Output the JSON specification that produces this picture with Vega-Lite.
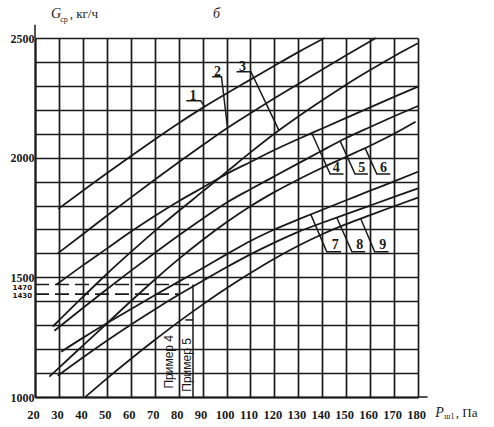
{
  "$schema": "https://vega.github.io/schema/vega-lite/v6.json",
  "width": 383,
  "height": 359,
  "autosize": {"type": "none"},
  "padding": {"left": 35, "top": 38, "right": 76, "bottom": 30},
  "background": "white",
  "config": {"view": {"stroke": null}},
  "datasets": {
    "curves": [
      {"c": 1, "P": 29.7, "G": 1786}, {"c": 1, "P": 40, "G": 1862}, {"c": 1, "P": 50, "G": 1935}, {"c": 1, "P": 60, "G": 2006}, {"c": 1, "P": 70, "G": 2076}, {"c": 1, "P": 80, "G": 2144}, {"c": 1, "P": 90, "G": 2208}, {"c": 1, "P": 100, "G": 2268}, {"c": 1, "P": 110, "G": 2326}, {"c": 1, "P": 120, "G": 2384}, {"c": 1, "P": 130, "G": 2441}, {"c": 1, "P": 141, "G": 2500},
      {"c": 2, "P": 29.5, "G": 1600}, {"c": 2, "P": 40, "G": 1680}, {"c": 2, "P": 50, "G": 1757}, {"c": 2, "P": 60, "G": 1833}, {"c": 2, "P": 70, "G": 1908}, {"c": 2, "P": 80, "G": 1981}, {"c": 2, "P": 90, "G": 2052}, {"c": 2, "P": 100, "G": 2122}, {"c": 2, "P": 110, "G": 2186}, {"c": 2, "P": 120, "G": 2248}, {"c": 2, "P": 130, "G": 2308}, {"c": 2, "P": 140, "G": 2368}, {"c": 2, "P": 150, "G": 2428}, {"c": 2, "P": 162.4, "G": 2500},
      {"c": 3, "P": 27.4, "G": 1294}, {"c": 3, "P": 40, "G": 1418}, {"c": 3, "P": 50, "G": 1514}, {"c": 3, "P": 60, "G": 1605}, {"c": 3, "P": 70, "G": 1693}, {"c": 3, "P": 80, "G": 1777}, {"c": 3, "P": 90, "G": 1858}, {"c": 3, "P": 100, "G": 1940}, {"c": 3, "P": 110, "G": 2022}, {"c": 3, "P": 120, "G": 2100}, {"c": 3, "P": 130, "G": 2172}, {"c": 3, "P": 140, "G": 2240}, {"c": 3, "P": 150, "G": 2305}, {"c": 3, "P": 160, "G": 2366}, {"c": 3, "P": 170, "G": 2424}, {"c": 3, "P": 180, "G": 2478},
      {"c": 4, "P": 29, "G": 1470}, {"c": 4, "P": 40, "G": 1550}, {"c": 4, "P": 50, "G": 1620}, {"c": 4, "P": 60, "G": 1690}, {"c": 4, "P": 70, "G": 1756}, {"c": 4, "P": 80, "G": 1818}, {"c": 4, "P": 90, "G": 1875}, {"c": 4, "P": 100, "G": 1932}, {"c": 4, "P": 110, "G": 1982}, {"c": 4, "P": 120, "G": 2032}, {"c": 4, "P": 130, "G": 2078}, {"c": 4, "P": 140, "G": 2122}, {"c": 4, "P": 150, "G": 2166}, {"c": 4, "P": 160, "G": 2210}, {"c": 4, "P": 170, "G": 2254}, {"c": 4, "P": 180, "G": 2297},
      {"c": 5, "P": 28.1, "G": 1277}, {"c": 5, "P": 40, "G": 1372}, {"c": 5, "P": 50, "G": 1450}, {"c": 5, "P": 60, "G": 1527}, {"c": 5, "P": 70, "G": 1602}, {"c": 5, "P": 80, "G": 1675}, {"c": 5, "P": 90, "G": 1745}, {"c": 5, "P": 100, "G": 1812}, {"c": 5, "P": 110, "G": 1868}, {"c": 5, "P": 120, "G": 1922}, {"c": 5, "P": 130, "G": 1976}, {"c": 5, "P": 140, "G": 2030}, {"c": 5, "P": 150, "G": 2082}, {"c": 5, "P": 160, "G": 2128}, {"c": 5, "P": 170, "G": 2173}, {"c": 5, "P": 180, "G": 2216},
      {"c": 6, "P": 26, "G": 1085}, {"c": 6, "P": 30, "G": 1122}, {"c": 6, "P": 40, "G": 1215}, {"c": 6, "P": 50, "G": 1307}, {"c": 6, "P": 60, "G": 1400}, {"c": 6, "P": 70, "G": 1490}, {"c": 6, "P": 80, "G": 1576}, {"c": 6, "P": 90, "G": 1656}, {"c": 6, "P": 100, "G": 1730}, {"c": 6, "P": 110, "G": 1797}, {"c": 6, "P": 120, "G": 1856}, {"c": 6, "P": 130, "G": 1909}, {"c": 6, "P": 140, "G": 1958}, {"c": 6, "P": 150, "G": 2004}, {"c": 6, "P": 160, "G": 2050}, {"c": 6, "P": 170, "G": 2100}, {"c": 6, "P": 179, "G": 2150},
      {"c": 7, "P": 30.9, "G": 1189}, {"c": 7, "P": 40, "G": 1247}, {"c": 7, "P": 50, "G": 1308}, {"c": 7, "P": 60, "G": 1367}, {"c": 7, "P": 70, "G": 1425}, {"c": 7, "P": 80, "G": 1482}, {"c": 7, "P": 90, "G": 1538}, {"c": 7, "P": 100, "G": 1596}, {"c": 7, "P": 110, "G": 1652}, {"c": 7, "P": 120, "G": 1700}, {"c": 7, "P": 130, "G": 1742}, {"c": 7, "P": 140, "G": 1782}, {"c": 7, "P": 150, "G": 1822}, {"c": 7, "P": 160, "G": 1862}, {"c": 7, "P": 170, "G": 1901}, {"c": 7, "P": 180, "G": 1941},
      {"c": 8, "P": 29.5, "G": 1089}, {"c": 8, "P": 40, "G": 1165}, {"c": 8, "P": 50, "G": 1235}, {"c": 8, "P": 60, "G": 1302}, {"c": 8, "P": 70, "G": 1366}, {"c": 8, "P": 80, "G": 1427}, {"c": 8, "P": 90, "G": 1485}, {"c": 8, "P": 100, "G": 1542}, {"c": 8, "P": 110, "G": 1596}, {"c": 8, "P": 120, "G": 1645}, {"c": 8, "P": 130, "G": 1690}, {"c": 8, "P": 140, "G": 1728}, {"c": 8, "P": 150, "G": 1764}, {"c": 8, "P": 160, "G": 1800}, {"c": 8, "P": 170, "G": 1836}, {"c": 8, "P": 180, "G": 1872},
      {"c": 9, "P": 41, "G": 1000}, {"c": 9, "P": 50, "G": 1077}, {"c": 9, "P": 60, "G": 1159}, {"c": 9, "P": 70, "G": 1238}, {"c": 9, "P": 80, "G": 1314}, {"c": 9, "P": 90, "G": 1386}, {"c": 9, "P": 100, "G": 1454}, {"c": 9, "P": 110, "G": 1518}, {"c": 9, "P": 120, "G": 1578}, {"c": 9, "P": 130, "G": 1632}, {"c": 9, "P": 140, "G": 1680}, {"c": 9, "P": 150, "G": 1722}, {"c": 9, "P": 160, "G": 1760}, {"c": 9, "P": 170, "G": 1797}, {"c": 9, "P": 180, "G": 1833}
    ],
    "segs": [
      {"id": "l1", "o": 0, "P": 83.2, "G": 2238}, {"id": "l1", "o": 1, "P": 89.2, "G": 2238}, {"id": "l1", "o": 2, "P": 90.9, "G": 2212},
      {"id": "l2", "o": 0, "P": 94.0, "G": 2338}, {"id": "l2", "o": 1, "P": 97.9, "G": 2338}, {"id": "l2", "o": 2, "P": 100.4, "G": 2128},
      {"id": "l3", "o": 0, "P": 104.2, "G": 2359}, {"id": "l3", "o": 1, "P": 110.2, "G": 2359}, {"id": "l3", "o": 2, "P": 121.9, "G": 2114},
      {"id": "l4", "o": 0, "P": 135.6, "G": 2103}, {"id": "l4", "o": 1, "P": 143.3, "G": 1932}, {"id": "l4", "o": 2, "P": 148.9, "G": 1932},
      {"id": "l5", "o": 0, "P": 147.5, "G": 2069}, {"id": "l5", "o": 1, "P": 153.7, "G": 1932}, {"id": "l5", "o": 2, "P": 159.1, "G": 1932},
      {"id": "l6", "o": 0, "P": 157.9, "G": 2040}, {"id": "l6", "o": 1, "P": 162.8, "G": 1932}, {"id": "l6", "o": 2, "P": 168.4, "G": 1932},
      {"id": "l7", "o": 0, "P": 135.2, "G": 1763}, {"id": "l7", "o": 1, "P": 141.9, "G": 1607}, {"id": "l7", "o": 2, "P": 147.9, "G": 1607},
      {"id": "l8", "o": 0, "P": 146.1, "G": 1749}, {"id": "l8", "o": 1, "P": 152.4, "G": 1607}, {"id": "l8", "o": 2, "P": 157.9, "G": 1607},
      {"id": "l9", "o": 0, "P": 156.1, "G": 1745}, {"id": "l9", "o": 1, "P": 161.9, "G": 1607}, {"id": "l9", "o": 2, "P": 167.7, "G": 1607},
      {"id": "yext", "o": 0, "P": 20, "G": 2500}, {"id": "yext", "o": 1, "P": 20, "G": 2555},
      {"id": "xext", "o": 0, "P": 180, "G": 1000}, {"id": "xext", "o": 1, "P": 184, "G": 1000},
      {"id": "v5", "o": 0, "P": 86, "G": 1470}, {"id": "v5", "o": 1, "P": 86, "G": 1000},
      {"id": "t5", "o": 0, "P": 82.8, "G": 1322}, {"id": "t5", "o": 1, "P": 86, "G": 1322}
    ],
    "dashes": [
      {"id": "d1", "o": 0, "P": 20, "G": 1470}, {"id": "d1", "o": 1, "P": 86, "G": 1470},
      {"id": "d2", "o": 0, "P": 20, "G": 1430}, {"id": "d2", "o": 1, "P": 80, "G": 1430}
    ],
    "nums": [
      {"t": "1", "P": 86.0, "G": 2243}, {"t": "2", "P": 96.2, "G": 2343}, {"t": "3", "P": 106.7, "G": 2364},
      {"t": "4", "P": 145.9, "G": 1940}, {"t": "5", "P": 156.5, "G": 1940}, {"t": "6", "P": 165.6, "G": 1940},
      {"t": "7", "P": 145.4, "G": 1618}, {"t": "8", "P": 155.7, "G": 1618}, {"t": "9", "P": 165.3, "G": 1618}
    ],
    "smallLabels": [
      {"t": "1470", "P": 20, "G": 1455}, {"t": "1430", "P": 20, "G": 1420}
    ],
    "examples": [
      {"t": "Пример 4", "P": 76.1, "G": 1147}, {"t": "Пример 5", "P": 83.5, "G": 1134}
    ],
    "italics": [
      {"t": "G", "P": 26.7, "G": 2582}, {"t": "P", "P": 187.2, "G": 917.7}
    ],
    "plainTitle": [
      {"t": ", кг/ч", "P": 34.5, "G": 2582}, {"t": ", Па", "P": 195.8, "G": 917.7}
    ],
    "subs": [
      {"t": "ср", "P": 30.5, "G": 2568}, {"t": "ш1", "P": 191.0, "G": 906.8}
    ],
    "letterB": [
      {"t": "б", "P": 95.8, "G": 2582}
    ]
  },
  "encoding": {
    "x": {
      "field": "P", "type": "quantitative",
      "scale": {"domain": [20, 180], "nice": false, "zero": false},
      "axis": {
        "values": [20, 30, 40, 50, 60, 70, 80, 90, 100, 110, 120, 130, 140, 150, 160, 170, 180],
        "grid": true, "gridColor": "#1a1a1a", "gridWidth": 1.7, "gridOpacity": 1,
        "domainColor": "#1a1a1a", "domainWidth": 2, "ticks": false,
        "labelFont": "Liberation Sans Narrow", "labelFontSize": 12.5, "labelFontWeight": "bold",
        "labelColor": "#1a1a1a", "labelPadding": 11, "labelOffset": -2, "labelFlush": false, "labelOverlap": false,
        "format": "d", "title": null
      }
    },
    "y": {
      "field": "G", "type": "quantitative",
      "scale": {"domain": [1000, 2500], "nice": false, "zero": false},
      "axis": {
        "values": [1000, 1100, 1200, 1300, 1400, 1500, 1600, 1700, 1800, 1900, 2000, 2100, 2200, 2300, 2400, 2500],
        "grid": true, "gridColor": "#1a1a1a", "gridWidth": 1.7, "gridOpacity": 1,
        "domainColor": "#1a1a1a", "domainWidth": 2, "ticks": false,
        "labelFont": "Liberation Sans Narrow", "labelFontSize": 12, "labelFontWeight": "bold",
        "labelColor": "#1a1a1a", "labelPadding": 1, "labelFlush": false, "labelOverlap": false,
        "format": "d", "labelExpr": "datum.value % 500 === 0 ? datum.label : ''", "title": null
      }
    }
  },
  "layer": [
    {
      "data": {"name": "curves"},
      "mark": {"type": "line", "interpolate": "monotone", "color": "#1a1a1a", "strokeWidth": 1.8},
      "encoding": {"detail": {"field": "c"}}
    },
    {
      "data": {"name": "segs"},
      "mark": {"type": "line", "color": "#1a1a1a", "strokeWidth": 1.5},
      "encoding": {"detail": {"field": "id"}, "order": {"field": "o"}}
    },
    {
      "data": {"name": "dashes"},
      "mark": {"type": "line", "color": "#1a1a1a", "strokeWidth": 1.6, "strokeDash": [14, 6]},
      "encoding": {"detail": {"field": "id"}, "order": {"field": "o"}}
    },
    {
      "data": {"name": "nums"},
      "mark": {"type": "text", "font": "Liberation Sans Narrow", "fontSize": 14, "fontWeight": "bold", "align": "center", "baseline": "alphabetic", "color": "#1a1a1a"},
      "encoding": {"text": {"field": "t"}}
    },
    {
      "data": {"name": "smallLabels"},
      "mark": {"type": "text", "font": "DejaVu Sans", "fontSize": 7, "fontWeight": "bold", "align": "right", "baseline": "middle", "dx": -3, "color": "#1a1a1a"},
      "encoding": {"text": {"field": "t"}}
    },
    {
      "data": {"name": "examples"},
      "mark": {"type": "text", "font": "Liberation Sans", "fontSize": 12, "angle": 270, "align": "center", "baseline": "middle", "color": "#1a1a1a"},
      "encoding": {"text": {"field": "t"}}
    },
    {
      "data": {"name": "italics"},
      "mark": {"type": "text", "font": "Liberation Serif", "fontSize": 14, "fontStyle": "italic", "align": "left", "baseline": "alphabetic", "color": "#1a1a1a"},
      "encoding": {"text": {"field": "t"}}
    },
    {
      "data": {"name": "plainTitle"},
      "mark": {"type": "text", "font": "Liberation Serif", "fontSize": 13, "align": "left", "baseline": "alphabetic", "color": "#1a1a1a"},
      "encoding": {"text": {"field": "t"}}
    },
    {
      "data": {"name": "subs"},
      "mark": {"type": "text", "font": "Liberation Serif", "fontSize": 8, "align": "left", "baseline": "alphabetic", "color": "#1a1a1a"},
      "encoding": {"text": {"field": "t"}}
    },
    {
      "data": {"name": "letterB"},
      "mark": {"type": "text", "font": "Liberation Serif", "fontSize": 14, "fontStyle": "italic", "align": "center", "baseline": "alphabetic", "color": "#1a1a1a"},
      "encoding": {"text": {"field": "t"}}
    }
  ]
}
